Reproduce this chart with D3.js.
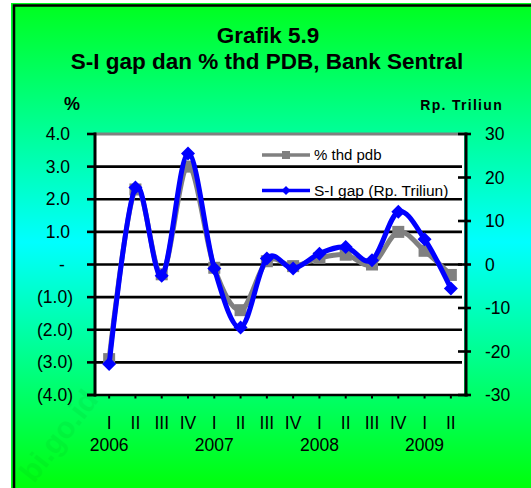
<!DOCTYPE html>
<html>
<head>
<meta charset="utf-8">
<script src="https://cdn.jsdelivr.net/npm/d3@7"></script>
<style>
  body { margin: 0; background: #fff; }
  text { font-family: "Liberation Sans", Arial, sans-serif; }
</style>
</head>
<body>
<div id="chart"></div>
<script>
const width = 531;
const height = 488;

// data
const quarters = ["I", "II", "III", "IV", "I", "II", "III", "IV", "I", "II", "III", "IV", "I", "II"];
const years = ["2006", "2007", "2008", "2009"];
const pctPdb = [-2.9, 2.3, -0.3, 3.0, -0.1, -1.4, 0.1, -0.05, 0.2, 0.3, 0.0, 1.0, 0.42, -0.32];
const siGap = [-22.9, 17.7, -2.6, 25.5, -0.9, -14.5, 1.4, -0.9, 2.5, 4.0, 1.0, 12.1, 5.8, -5.5];
const leftTicks = [-4, -3, -2, -1, 0, 1, 2, 3, 4];
const rightTicks = [-30, -20, -10, 0, 10, 20, 30];

const svg = d3.select("#chart").append("svg")
  .attr("width", width)
  .attr("height", height);

// background gradient
const defs = svg.append("defs");
const grad = defs.append("linearGradient")
  .attr("id", "bg").attr("x1", 0).attr("y1", 0).attr("x2", 0).attr("y2", 1);
grad.append("stop").attr("offset", "0%").attr("stop-color", "#00ff1e");
grad.append("stop").attr("offset", "49%").attr("stop-color", "#00ffff");
grad.append("stop").attr("offset", "100%").attr("stop-color", "#00ff08");

svg.append("rect")
  .attr("x", 11).attr("y", 3)
  .attr("width", width).attr("height", height)
  .attr("fill", "url(#bg)");

svg.append("rect")
  .attr("x", 14).attr("y", 5.5)
  .attr("width", 700).attr("height", 700)
  .attr("fill", "none")
  .attr("stroke", "#000")
  .attr("stroke-width", 2.5);

// faint watermark
svg.append("text")
  .attr("transform", "translate(34,484) rotate(-52)")
  .attr("font-size", 30)
  .attr("font-weight", "bold")
  .attr("fill", "#00a020")
  .attr("opacity", 0.1)
  .text("bi.go.id");

// titles
svg.append("text")
  .attr("x", 268).attr("y", 43)
  .attr("text-anchor", "middle")
  .attr("font-size", 22.5).attr("font-weight", "bold")
  .text("Grafik 5.9");
svg.append("text")
  .attr("x", 267).attr("y", 68.5)
  .attr("text-anchor", "middle")
  .attr("font-size", 22.5).attr("font-weight", "bold")
  .text("S-I gap dan % thd PDB, Bank Sentral");
svg.append("text")
  .attr("x", 72).attr("y", 110)
  .attr("text-anchor", "middle")
  .attr("font-size", 18).attr("font-weight", "bold")
  .text("%");
svg.append("text")
  .attr("x", 503).attr("y", 110)
  .attr("text-anchor", "end")
  .attr("font-size", 14).attr("font-weight", "bold")
  .attr("letter-spacing", 1.3)
  .text("Rp. Triliun");

// scales
const plotL = 96, plotR = 464, plotT = 134, plotB = 395;
const x = d3.scaleBand().domain(d3.range(quarters.length)).range([plotL, plotR]);
const cx = i => x(i) + x.bandwidth() / 2;
const yL = d3.scaleLinear().domain([-4, 4]).range([plotB, plotT]);
const yR = d3.scaleLinear().domain([-30, 30]).range([plotB, plotT]);

// plot area
svg.append("rect")
  .attr("x", plotL).attr("y", plotT)
  .attr("width", plotR - plotL).attr("height", plotB - plotT)
  .attr("fill", "#fff");
svg.append("line")
  .attr("x1", plotL).attr("x2", plotR + 2)
  .attr("y1", plotT).attr("y2", plotT)
  .attr("stroke", "#808080").attr("stroke-width", 3);

// gridlines
svg.append("g")
  .selectAll("line")
  .data(leftTicks.filter(d => d > -4 && d < 4))
  .join("line")
  .attr("x1", plotL).attr("x2", plotR - 2)
  .attr("y1", d => yL(d)).attr("y2", d => yL(d))
  .attr("stroke", "#000").attr("stroke-width", 2.6);

// left axis
const fmtLeft = d => d === 0 ? "-" : d < 0 ? "(" + d3.format(".1f")(-d) + ")" : d3.format(".1f")(d);
const gL = svg.append("g");
gL.selectAll("line")
  .data(leftTicks)
  .join("line")
  .attr("x1", plotL - 9).attr("x2", plotL)
  .attr("y1", d => yL(d)).attr("y2", d => yL(d))
  .attr("stroke", "#000").attr("stroke-width", 2.6);
gL.append("line")
  .attr("x1", plotL - 1).attr("x2", plotL - 1)
  .attr("y1", plotT - 1.5).attr("y2", plotB + 1.5)
  .attr("stroke", "#000").attr("stroke-width", 3);
gL.selectAll("text")
  .data(leftTicks)
  .join("text")
  .attr("x", d => d === 0 ? 62 : d < 0 ? 73 : 70)
  .attr("y", d => yL(d) + 6)
  .attr("text-anchor", d => d === 0 ? "middle" : "end")
  .attr("font-size", 17.5)
  .text(fmtLeft);

// right axis
const gR = svg.append("g");
gR.append("line")
  .attr("x1", plotR + 2).attr("x2", plotR + 2)
  .attr("y1", plotT - 1.5).attr("y2", plotB + 1.5)
  .attr("stroke", "#000").attr("stroke-width", 3);
gR.selectAll("line.t")
  .data(rightTicks)
  .join("line")
  .attr("class", "t")
  .attr("x1", plotR - 6).attr("x2", plotR + 7)
  .attr("y1", d => yR(d)).attr("y2", d => yR(d))
  .attr("stroke", "#000").attr("stroke-width", 2.6);
gR.selectAll("text")
  .data(rightTicks)
  .join("text")
  .attr("x", 485)
  .attr("y", d => yR(d) + 6)
  .attr("font-size", 17.5)
  .text(d => d);

// bottom axis
const gB = svg.append("g");
gB.append("line")
  .attr("x1", plotL - 9).attr("x2", plotR + 4)
  .attr("y1", plotB).attr("y2", plotB)
  .attr("stroke", "#000").attr("stroke-width", 2.6);
gB.selectAll("line.t")
  .data(d3.range(quarters.length))
  .join("line")
  .attr("class", "t")
  .attr("x1", cx).attr("x2", cx)
  .attr("y1", plotB).attr("y2", plotB + 3.5)
  .attr("stroke", "#000").attr("stroke-width", 2);
gB.selectAll("text.q")
  .data(quarters)
  .join("text")
  .attr("class", "q")
  .attr("x", (d, i) => cx(i))
  .attr("y", 429)
  .attr("text-anchor", "middle")
  .attr("font-size", 17.5)
  .text(d => d);
gB.selectAll("text.y")
  .data(years)
  .join("text")
  .attr("class", "y")
  .attr("x", (d, i) => cx(i * 4))
  .attr("y", 451)
  .attr("text-anchor", "middle")
  .attr("font-size", 17.5)
  .text(d => d);

// lines
const lineL = d3.line().x((d, i) => cx(i)).y(d => yL(d)).curve(d3.curveCatmullRom.alpha(0));
const lineR = d3.line().x((d, i) => cx(i)).y(d => yR(d)).curve(d3.curveCatmullRom.alpha(0));

svg.append("path")
  .attr("d", lineL(pctPdb))
  .attr("fill", "none").attr("stroke", "#808080").attr("stroke-width", 5);
svg.append("g")
  .selectAll("rect")
  .data(pctPdb)
  .join("rect")
  .attr("x", (d, i) => cx(i) - 6).attr("y", d => yL(d) - 6)
  .attr("width", 12).attr("height", 12)
  .attr("fill", "#808080");

svg.append("path")
  .attr("d", lineR(siGap))
  .attr("fill", "none").attr("stroke", "#0000ff").attr("stroke-width", 5);
const diamond = (px, py, r) => `M${px},${py - r}L${px + r},${py}L${px},${py + r}L${px - r},${py}Z`;
svg.append("g")
  .selectAll("path")
  .data(siGap)
  .join("path")
  .attr("d", (d, i) => diamond(cx(i), yR(d), 7))
  .attr("fill", "#0000ff");

// legend
const lg = svg.append("g");
lg.append("line")
  .attr("x1", 262).attr("x2", 310).attr("y1", 155).attr("y2", 155)
  .attr("stroke", "#808080").attr("stroke-width", 3.5);
lg.append("rect")
  .attr("x", 282).attr("y", 151).attr("width", 8).attr("height", 8)
  .attr("fill", "#808080");
lg.append("text")
  .attr("x", 314).attr("y", 160)
  .attr("font-size", 15)
  .text("% thd pdb");
lg.append("line")
  .attr("x1", 262).attr("x2", 310).attr("y1", 190.5).attr("y2", 190.5)
  .attr("stroke", "#0000ff").attr("stroke-width", 3.5);
lg.append("path")
  .attr("d", diamond(286, 190.5, 4.5))
  .attr("fill", "#0000ff");
lg.append("text")
  .attr("x", 314).attr("y", 196)
  .attr("font-size", 15.5)
  .text("S-I gap (Rp. Triliun)");
</script>
</body>
</html>
